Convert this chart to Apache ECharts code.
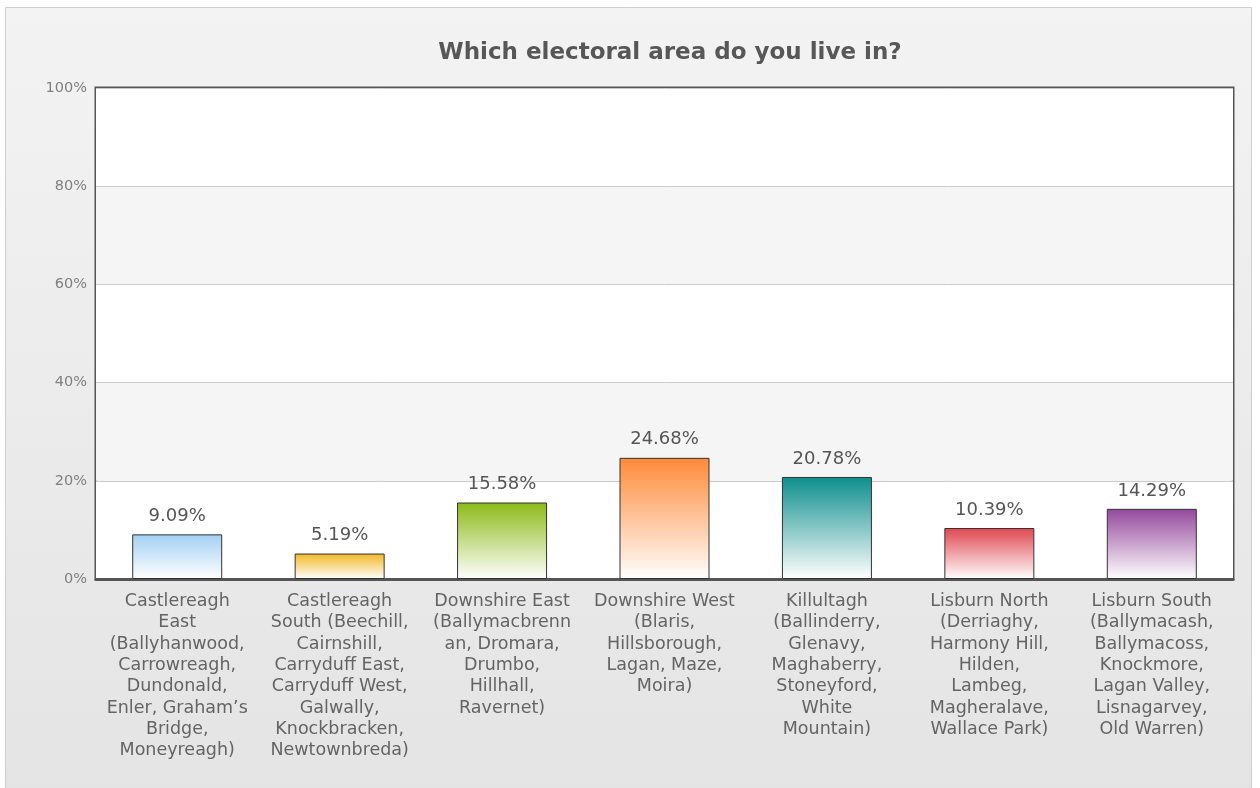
<!DOCTYPE html>
<html>
<head>
<meta charset="utf-8">
<script src="https://cdn.jsdelivr.net/npm/echarts@6/dist/echarts.min.js"></script>
<style>
html,body{margin:0;padding:0;background:#ffffff;}
#chart{width:1260px;height:788px;}
</style>
</head>
<body>
<div id="chart"></div>
<script>
var titleText = 'Which electoral area do you live in?';
var categories = [
  'Castlereagh\nEast\n(Ballyhanwood,\nCarrowreagh,\nDundonald,\nEnler, Graham\u2019s\nBridge,\nMoneyreagh)',
  'Castlereagh\nSouth (Beechill,\nCairnshill,\nCarryduff East,\nCarryduff West,\nGalwally,\nKnockbracken,\nNewtownbreda)',
  'Downshire East\n(Ballymacbrenn\nan, Dromara,\nDrumbo,\nHillhall,\nRavernet)',
  'Downshire West\n(Blaris,\nHillsborough,\nLagan, Maze,\nMoira)',
  'Killultagh\n(Ballinderry,\nGlenavy,\nMaghaberry,\nStoneyford,\nWhite\nMountain)',
  'Lisburn North\n(Derriaghy,\nHarmony Hill,\nHilden,\nLambeg,\nMagheralave,\nWallace Park)',
  'Lisburn South\n(Ballymacash,\nBallymacoss,\nKnockmore,\nLagan Valley,\nLisnagarvey,\nOld Warren)'
];
var values = [9.09, 5.19, 15.58, 24.68, 20.78, 10.39, 14.29];
var barColors = ['#a3d0f3', '#f2b723', '#8cba17', '#ff8a38', '#0d8f8d', '#e0464f', '#94489c'];
var yTicks = [0, 20, 40, 60, 80, 100];

var chart = echarts.init(document.getElementById('chart'), null, {renderer: 'canvas'});
var FONT = 'DejaVu Sans';

var data = values.map(function (v, i) {
  return {
    value: v,
    itemStyle: {
      color: {
        type: 'linear', x: 0, y: 0, x2: 0, y2: 1,
        colorStops: [
          {offset: 0, color: barColors[i]},
          {offset: 1, color: '#ffffff'}
        ]
      }
    }
  };
});

chart.setOption({
  animation: false,
  backgroundColor: '#ffffff',
  graphic: [{
    type: 'rect',
    z: -10,
    shape: {x: 5.5, y: 7.5, width: 1246, height: 790},
    style: {
      fill: {
        type: 'linear', x: 0, y: 0, x2: 0, y2: 1,
        colorStops: [{offset: 0, color: '#f3f3f3'}, {offset: 1, color: '#e4e4e4'}]
      },
      stroke: '#cfcfcf',
      lineWidth: 1
    }
  }],
  title: {
    text: titleText,
    left: 665,
    textAlign: 'center',
    top: 37,
    textStyle: {fontFamily: FONT, fontSize: 23, fontWeight: 'bold', color: '#575757'}
  },
  grid: {
    left: 96, right: 27, top: 88, bottom: 209,
    show: true,
    borderColor: '#555555',
    borderWidth: 3,
    backgroundColor: 'transparent'
  },
  xAxis: {
    type: 'category',
    data: categories,
    axisLine: {show: true, lineStyle: {color: '#555555', width: 3}},
    axisTick: {show: false},
    axisLabel: {
      interval: 0,
      fontFamily: FONT,
      fontSize: 17.5,
      lineHeight: 21.3,
      color: '#646464',
      margin: 12,
      align: 'center'
    }
  },
  yAxis: {
    type: 'value',
    min: yTicks[0],
    max: yTicks[yTicks.length - 1],
    interval: 20,
    axisLine: {show: false},
    axisTick: {show: false},
    axisLabel: {
      formatter: '{value}%',
      fontFamily: FONT,
      fontSize: 14.5,
      color: '#808080',
      margin: 9
    },
    splitLine: {show: true, lineStyle: {color: '#cccccc', width: 1}},
    splitArea: {show: true, areaStyle: {color: ['#ffffff', '#f5f5f5']}}
  },
  series: [{
    type: 'bar',
    data: data,
    barWidth: 90,
    itemStyle: {borderColor: '#333333', borderWidth: 1},
    label: {
      show: true,
      position: 'top',
      distance: 9,
      formatter: function (p) { return p.value.toFixed(2) + '%'; },
      fontFamily: FONT,
      fontSize: 18,
      color: '#555555'
    }
  }]
});
</script>
</body>
</html>
